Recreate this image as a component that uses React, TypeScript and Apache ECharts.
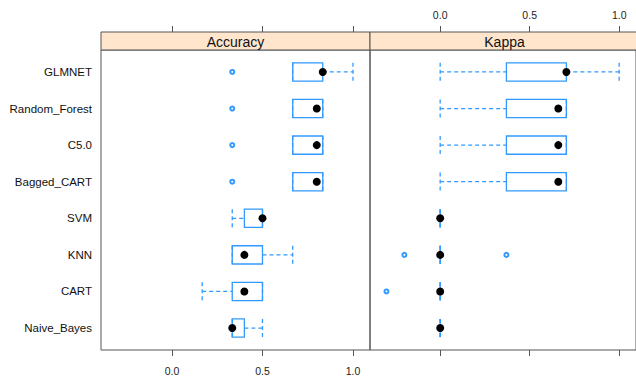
import React, { useEffect, useRef } from "react";
import * as echarts from "echarts";

const categories = ["GLMNET", "Random_Forest", "C5.0", "Bagged_CART", "SVM", "KNN", "CART", "Naive_Bayes"];
const xTicks = [0, 0.5, 1.0];

// Accuracy summaries
const accLow = [0.667, 0.667, 0.667, 0.667, 0.333, 0.333, 0.167, 0.333];
const accQ1 = [0.667, 0.667, 0.667, 0.667, 0.4, 0.333, 0.333, 0.333];
const accMed = [0.833, 0.8, 0.8, 0.8, 0.5, 0.4, 0.4, 0.333];
const accQ3 = [0.833, 0.833, 0.833, 0.833, 0.5, 0.5, 0.5, 0.4];
const accHigh = [1.0, 0.833, 0.833, 0.833, 0.5, 0.667, 0.5, 0.5];
const accOutliers: number[][] = [[0.333], [0.333], [0.333], [0.333], [], [], [], []];

// Kappa summaries
const kapLow = [0, 0, 0, 0, 0, 0, 0, 0];
const kapQ1 = [0.37, 0.37, 0.37, 0.37, 0, 0, 0, 0];
const kapMed = [0.705, 0.66, 0.66, 0.66, 0, 0, 0, 0];
const kapQ3 = [0.705, 0.705, 0.705, 0.705, 0, 0, 0, 0];
const kapHigh = [1.0, 0.705, 0.705, 0.705, 0, 0, 0, 0];
const kapOutliers: number[][] = [[], [], [], [], [], [-0.2, 0.37], [-0.3], []];

const BLUE = "#3399ff";
const FRAME = "#555555";
const FONT = "'Liberation Sans', Arial, sans-serif";
const XMIN = -0.392;
const XMAX = 1.094;

function boxData(lo: number[], q1: number[], q3: number[], hi: number[]) {
  return categories.map((_, i) => [lo[i], q1[i], q3[i], hi[i], i + 1]);
}
function medData(med: number[]) {
  return categories.map((_, i) => [med[i], i + 1]);
}
function outData(out: number[][]) {
  const r: number[][] = [];
  out.forEach((arr, i) => arr.forEach((v) => r.push([v, i + 1])));
  return r;
}

const renderBox = (params: any, api: any) => {
  const lo = api.value(0), q1 = api.value(1), q3 = api.value(2), hi = api.value(3), y = api.value(4);
  const pLo = api.coord([lo, y]);
  const pQ1 = api.coord([q1, y]);
  const pQ3 = api.coord([q3, y]);
  const pHi = api.coord([hi, y]);
  const h = Math.abs(api.size([0, 1])[1]) * 0.5;
  const half = h / 2;
  const dash = { stroke: BLUE, lineWidth: 1.3, lineDash: [4, 3] };
  return {
    type: "group",
    children: [
      { type: "line", shape: { x1: pLo[0], y1: pLo[1], x2: pQ1[0], y2: pQ1[1] }, style: dash },
      { type: "line", shape: { x1: pQ3[0], y1: pQ3[1], x2: pHi[0], y2: pHi[1] }, style: dash },
      { type: "line", shape: { x1: pLo[0], y1: pLo[1] - half, x2: pLo[0], y2: pLo[1] + half }, style: dash },
      { type: "line", shape: { x1: pHi[0], y1: pHi[1] - half, x2: pHi[0], y2: pHi[1] + half }, style: dash },
      {
        type: "rect",
        shape: { x: pQ1[0], y: pQ1[1] - half, width: pQ3[0] - pQ1[0], height: h },
        style: { fill: "none", stroke: BLUE, lineWidth: 1.3 },
      },
    ],
  };
};

function xAxisCfg(gridIndex: number, position: string, showLabels: boolean) {
  return {
    type: "value",
    gridIndex,
    position,
    offset: position === "top" ? 18 : 0,
    min: XMIN,
    max: XMAX,
    axisLine: { show: false },
    splitLine: { show: false },
    axisTick: { show: true, length: 6, customValues: xTicks, lineStyle: { color: FRAME, width: 1 } },
    axisLabel: {
      show: showLabels,
      customValues: xTicks,
      formatter: (v: number) => v.toFixed(1),
      fontSize: 10.5,
      color: "#222",
      fontFamily: FONT,
      margin: position === "top" ? 12 : 15,
    },
  };
}

function yAxisCfg(gridIndex: number, showLabels: boolean) {
  return {
    type: "value",
    gridIndex,
    min: 0.4,
    max: 8.6,
    inverse: true,
    axisLine: { show: false },
    axisTick: { show: false },
    splitLine: { show: false },
    axisLabel: {
      show: showLabels,
      customValues: categories.map((_, i) => i + 1),
      formatter: (v: number) => categories[Math.round(v) - 1] ?? "",
      fontSize: 11.5,
      color: "#111",
      fontFamily: FONT,
      margin: 9,
    },
  };
}

function panelSeries(xi: number, yi: number, lo: number[], q1: number[], med: number[], q3: number[], hi: number[], out: number[][]) {
  return [
    {
      type: "custom",
      xAxisIndex: xi,
      yAxisIndex: yi,
      renderItem: renderBox,
      encode: { x: [0, 1, 2, 3], y: 4 },
      data: boxData(lo, q1, q3, hi),
      silent: true,
      z: 2,
    },
    {
      type: "scatter",
      xAxisIndex: xi,
      yAxisIndex: yi,
      symbol: "emptyCircle",
      symbolSize: 4,
      itemStyle: { color: BLUE, borderWidth: 1, opacity: 1 },
      data: outData(out),
      silent: true,
      z: 3,
    },
    {
      type: "scatter",
      xAxisIndex: xi,
      yAxisIndex: yi,
      symbol: "circle",
      symbolSize: 8,
      itemStyle: { color: "#000", opacity: 1 },
      data: medData(med),
      silent: true,
      z: 4,
    },
  ];
}

export default function App() {
  const ref = useRef<HTMLDivElement>(null);
  useEffect(() => {
    document.body.style.margin = "0";
    if (!ref.current) return;
    const chart = echarts.init(ref.current, null, { renderer: "svg" });
    chart.setOption({
      animation: false,
      backgroundColor: "#ffffff",
      textStyle: { fontFamily: FONT },
      grid: [
        { left: 101, top: 50, width: 269, height: 300, show: true, borderColor: FRAME, borderWidth: 1, backgroundColor: "transparent" },
        { left: 370, top: 50, width: 269, height: 300, show: true, borderColor: FRAME, borderWidth: 1, backgroundColor: "transparent" },
      ],
      xAxis: [
        xAxisCfg(0, "bottom", true),
        xAxisCfg(0, "top", false),
        xAxisCfg(1, "bottom", false),
        xAxisCfg(1, "top", true),
      ],
      yAxis: [yAxisCfg(0, true), yAxisCfg(1, false)],
      graphic: [
        { type: "rect", shape: { x: 101, y: 32, width: 269, height: 18 }, style: { fill: "#FFE5CC", stroke: FRAME, lineWidth: 1 } },
        { type: "rect", shape: { x: 370, y: 32, width: 269, height: 18 }, style: { fill: "#FFE5CC", stroke: FRAME, lineWidth: 1 } },
        { type: "text", x: 235.5, y: 42, style: { text: "Accuracy", fontSize: 14, fontFamily: FONT, fill: "#111", align: "center", verticalAlign: "middle" } },
        { type: "text", x: 504.5, y: 42, style: { text: "Kappa", fontSize: 14, fontFamily: FONT, fill: "#111", align: "center", verticalAlign: "middle" } },
      ],
      series: [
        ...panelSeries(0, 0, accLow, accQ1, accMed, accQ3, accHigh, accOutliers),
        ...panelSeries(2, 1, kapLow, kapQ1, kapMed, kapQ3, kapHigh, kapOutliers),
      ],
    });
    return () => chart.dispose();
  }, []);
  return <div ref={ref} style={{ width: 636, height: 379 }} />;
}
